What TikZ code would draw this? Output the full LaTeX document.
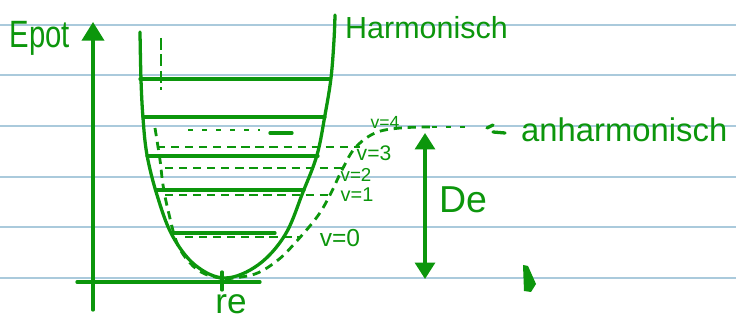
\documentclass[tikz,border=0pt]{standalone}
\usepackage{fontspec}
\setmainfont{Liberation Sans}
\usetikzlibrary{arrows.meta}
\definecolor{ink}{RGB}{12,150,12}
\definecolor{rule}{RGB}{170,202,220}
\tikzset{
  ruling/.style={rule, line width=1.6pt},
  pen/.style={ink, line width=2.8pt, line cap=round, line join=round},
  dpen/.style={ink, line width=2.4pt, dash pattern=on 7pt off 5pt},
  spen/.style={ink, line width=2.4pt, dash pattern=on 4pt off 8pt},
  lbl/.style={ink, inner sep=0pt, font=\fontsize{#1}{#1}\selectfont},
  lbl/.default=18
}
\begin{document}
\begin{tikzpicture}[x=0.03cm, y=-0.03cm]
\useasboundingbox[fill=white] (0,0) rectangle (736,321);
% ruled paper
\foreach \yy in {25,75,126,177,227,278} \draw[ruling] (0,\yy) -- (736,\yy);
% axes
\coordinate (yb) at (93,310);
\coordinate (yt) at (93,22);
\coordinate (xl) at (77,282);
\coordinate (xr) at (260,282);
\draw[pen, -{Triangle[length=16pt, width=19pt]}] (yb) -- (yt);
\draw[pen] (xl) -- (xr);
\node[lbl=25, anchor=center, yscale=1.3] (epot) at (40,38) {Epot};
% harmonic parabola
\draw[pen] plot[smooth, tension=0.6] coordinates {(140,32) (141,80) (143,118) (147,155) (157,195) (172,235) (195,265) (225,278) (258,265) (285,235) (303,192) (317,155) (325,115) (331,78) (334,40) (335,15)};
% harmonic levels
\draw[pen] (140,79) -- (330,79);
\draw[pen] (143,117) -- (325,117);
\draw[pen] (147,156) -- (318,156);
\draw[pen] (157,190) -- (304,190);
\draw[pen] (172,233) -- (275,233);
% small dashed tick
\draw[ink, line width=2.2pt, dash pattern=on 10pt off 4pt] (161,38) -- (161,90);
% r_e tick
\coordinate (ret) at (222,272);
\coordinate (reb) at (222,290);
\draw[pen] (ret) -- (reb);
\node[lbl=30, anchor=north] (re) at (231,294) {re};
% anharmonic curve
\draw[dpen] plot[smooth, tension=0.6] coordinates {(155,128) (160,160) (163,185) (168,210) (177,243) (190,263) (205,274) (225,279)};
\draw[dpen] plot[smooth, tension=0.6] coordinates {(225,279) (255,274) (278,260) (295,243) (317,217) (330,195) (342,170) (355,148) (375,133) (400,128) (430,127)};
\draw[spen] (432,127) -- (470,127);
\draw[pen] (487,128) -- (493,125);
\draw[pen] (493,132) -- (505,133);
% anharmonic levels
\draw[spen] (188,130) -- (260,130);
\draw[pen] (270,133) -- (292,133);
\draw[dpen] (157,147) -- (360,147);
\draw[dpen] (165,168) -- (345,168);
\draw[dpen] (165,195) -- (332,195);
\draw[dpen] (185,237) -- (300,237);
% level labels
\node[lbl=15, anchor=center] (v4) at (385,122) {v=4};
\node[lbl=18, anchor=center] (v3) at (374,153) {v=3};
\node[lbl=16, anchor=center] (v2) at (356,175) {v=2};
\node[lbl=17, anchor=center] (v1) at (357,195) {v=1};
\node[lbl=21, anchor=center] (v0) at (340,238) {v=0};
% labels for curves
\node[lbl=26, anchor=west] (harm) at (345,28) {Harmonisch};
\node[lbl=28, anchor=west] (anharm) at (521,130) {anharmonisch};
% dissociation energy
\coordinate (det) at (425,133);
\coordinate (deb) at (425,279);
\draw[pen, {Triangle[length=14pt, width=17pt]}-{Triangle[length=14pt, width=17pt]}] (deb) -- (det);
\node[lbl=32, anchor=center] (de) at (463,200) {De};
% stray mark
\fill[ink] (523,265) -- (528,266) -- (536,284) -- (531,292) -- (524,291) -- cycle;
\end{tikzpicture}
\end{document}
